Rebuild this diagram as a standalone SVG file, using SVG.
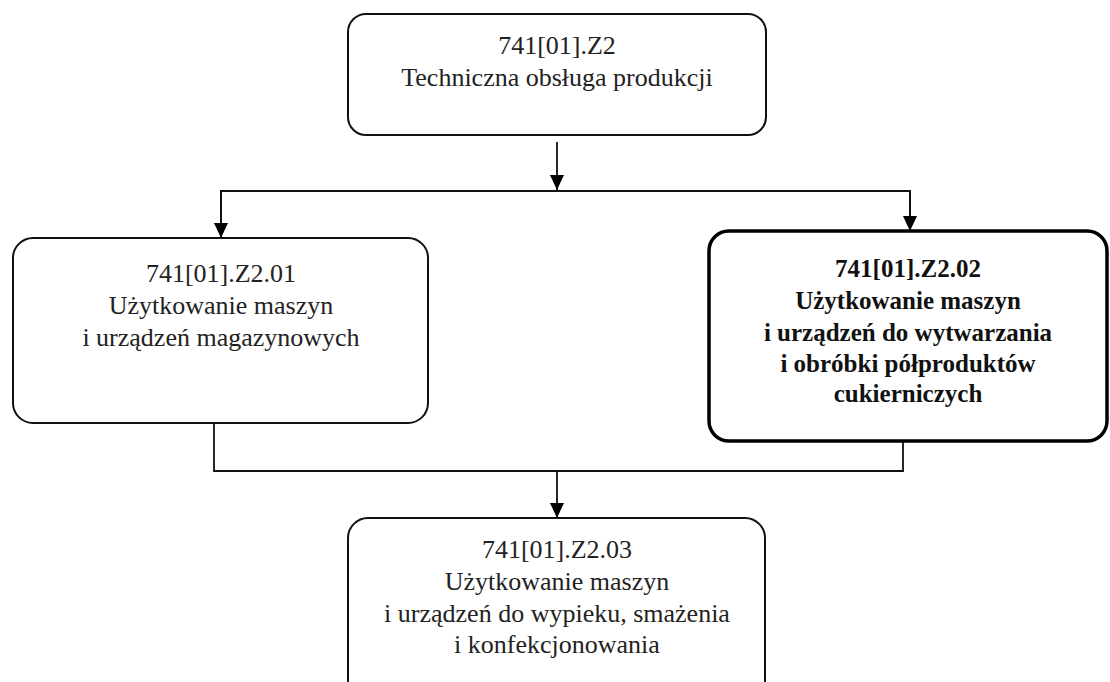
<svg xmlns="http://www.w3.org/2000/svg" width="1110" height="682" viewBox="0 0 1110 682">
  <defs>
    <marker id="arrow" markerUnits="userSpaceOnUse" markerWidth="15" markerHeight="14" refX="15" refY="7" orient="auto">
      <path d="M0,0 L15,7 L0,14 z" fill="#000"/>
    </marker>
    <style>
      .box { fill: #fff; stroke: #111; stroke-width: 2; }
      .box-bold { fill: #fff; stroke: #000; stroke-width: 3.5; }
      .conn { fill: none; stroke: #111; stroke-width: 1.8; }
      .t { font-family: "Liberation Serif", "Times New Roman", serif; font-size: 26px; fill: #222; text-anchor: middle; }
      .tb { font-family: "Liberation Serif", "Times New Roman", serif; font-size: 25px; font-weight: bold; fill: #111; text-anchor: middle; }
    </style>
  </defs>
  <rect width="1110" height="682" fill="#fff"/>

  <g id="connectors">
    <line class="conn" x1="557" y1="142" x2="557" y2="190" marker-end="url(#arrow)"/>
    <path class="conn" d="M221,238 L221,191 L910,191 L910,231"/>
    <line class="conn" x1="221" y1="191" x2="221" y2="238" marker-end="url(#arrow)"/>
    <line class="conn" x1="910" y1="191" x2="910" y2="231" marker-end="url(#arrow)"/>
    <path class="conn" d="M214,423 L214,471 L903,471 L903,441"/>
    <line class="conn" x1="557" y1="471" x2="557" y2="518" marker-end="url(#arrow)"/>
  </g>

  <g id="node-z2">
    <rect class="box" x="348" y="14" width="418" height="121" rx="18" ry="18"/>
    <text class="t" x="557" y="54">741[01].Z2</text>
    <text class="t" x="557" y="86">Techniczna obsługa produkcji</text>
  </g>

  <g id="node-z2-01">
    <rect class="box" x="13" y="238" width="415" height="185" rx="20" ry="20"/>
    <text class="t" x="221" y="282">741[01].Z2.01</text>
    <text class="t" x="221" y="314">Użytkowanie maszyn</text>
    <text class="t" x="221" y="346">i urządzeń magazynowych</text>
  </g>

  <g id="node-z2-02">
    <rect class="box-bold" x="709" y="231" width="398" height="210" rx="20" ry="20"/>
    <text class="tb" x="908" y="277">741[01].Z2.02</text>
    <text class="tb" x="908" y="309">Użytkowanie maszyn</text>
    <text class="tb" x="908" y="341">i urządzeń do wytwarzania</text>
    <text class="tb" x="908" y="372">i obróbki półproduktów</text>
    <text class="tb" x="908" y="402">cukierniczych</text>
  </g>

  <g id="node-z2-03">
    <rect class="box" x="348" y="518" width="417" height="190" rx="20" ry="20"/>
    <text class="t" x="557" y="558">741[01].Z2.03</text>
    <text class="t" x="557" y="590">Użytkowanie maszyn</text>
    <text class="t" x="557" y="622">i urządzeń do wypieku, smażenia</text>
    <text class="t" x="557" y="653">i konfekcjonowania</text>
  </g>
</svg>
